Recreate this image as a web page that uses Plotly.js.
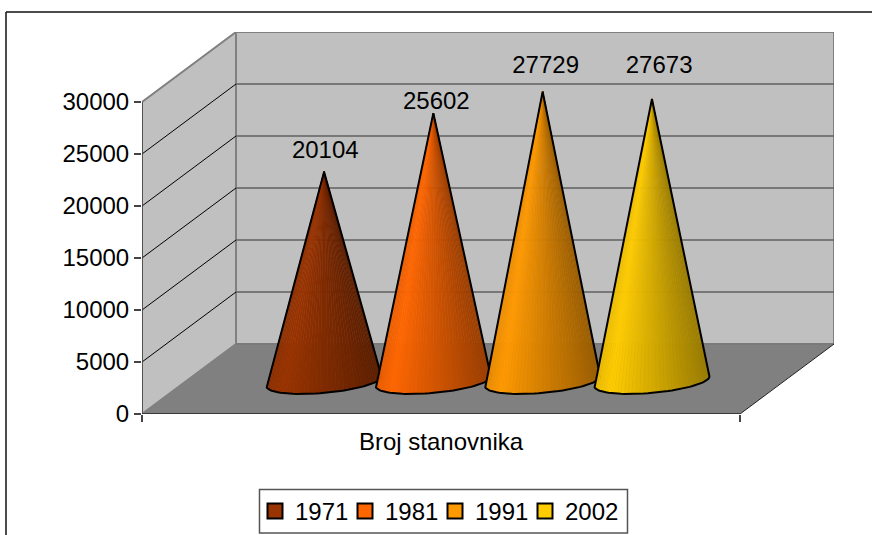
<!DOCTYPE html>
<html>
<head>
<meta charset="utf-8">
<script src="https://cdn.plot.ly/plotly-3.0.1.min.js"></script>
<style>html,body{margin:0;padding:0;background:#fff;overflow:hidden}#c{width:872px;height:535px}</style>
</head>
<body>
<div id="c"></div>
<script>
// ---- data ----
var categoryLabel = 'Broj stanovnika';
var years = ['1971', '1981', '1991', '2002'];
var values = [20104, 25602, 27729, 27673];
var drawnHeights = [20150, 25800, 27870, 27160];   // apex level as drawn in the picture
var labelLevels = [25150, 29950, 33320, 33320];    // level of each data label
var labelOffsets = [0.002, 0.005, 0.005, 0.012];   // sideways nudge of each data label
var colors = ['#993300', '#FF6600', '#FF9900', '#FFCC00'];
var tickValues = [0, 5000, 10000, 15000, 20000, 25000, 30000];
var legendLefts = [255, 345, 435, 525];

// ---- oblique projection, in axis units ----
var yMax = 30000, FRONT_W = 598, H = 312;
var depthX = 94 / FRONT_W, depthY = 70 / H * yMax;
var xRange = [0, 692 / 598], yRange = [0, 382 / 312 * 30000];
var slot = 109.3 / FRONT_W, coneA = 57.5 / FRONT_W;
var baseLevel = 3130, coneB = 11.5 / H * yMax, coneTilt = 5 / H * yMax;
var FS = 24, FONT = 'Liberation Sans, Arial, sans-serif';

function rgb(hex, s) {
  var n = parseInt(hex.slice(1), 16);
  return 'rgb(' + [(n >> 16) & 255, (n >> 8) & 255, n & 255].map(function (c) { return Math.round(c * s); }).join(',') + ')';
}
function shade(u) { return u < 0.14 ? 0.92 + u * 0.57 : 1 - (u - 0.14) * 0.46; }
function poly(pts) {
  return pts.map(function (p, i) { return (i ? 'L' : 'M') + p[0] + ',' + p[1]; }).join('') + 'Z';
}
function line(a, b, color, w) {
  return { type: 'line', layer: 'below', x0: a[0], y0: a[1], x1: b[0], y1: b[1], line: { color: color, width: w } };
}

var wall = '#C0C0C0', wallEdge = '#808080', floorC = '#808080';
var shapes = [
  { type: 'path', layer: 'below', path: poly([[0, 0], [depthX, depthY], [depthX, yMax + depthY], [0, yMax]]), fillcolor: wall, line: { color: wallEdge, width: 2 } },
  { type: 'path', layer: 'below', path: poly([[depthX, depthY], [1 + depthX, depthY], [1 + depthX, yMax + depthY], [depthX, yMax + depthY]]), fillcolor: wall, line: { color: wallEdge, width: 2 } }
];
tickValues.slice(1, -1).forEach(function (v) {
  shapes.push(line([0, v], [depthX, v + depthY], '#000', 1));
  shapes.push(line([depthX, v + depthY], [1 + depthX, v + depthY], '#606060', 1.5));
});
shapes.push({ type: 'path', layer: 'below', path: poly([[0, 0], [1, 0], [1 + depthX, depthY], [depthX, depthY]]), fillcolor: floorC, line: { width: 0 } });
shapes.push(line([depthX, depthY], [1 + depthX, depthY], '#7a7a7a', 2));
shapes.push(line([1, 0], [1 + depthX, depthY], '#222', 1));
shapes.push(line([0, 0], [1, 0], '#222', 1.5));
shapes.push(line([0, 0], [0, yMax], '#444', 1.5));
// outer chart frame and legend box (paper coordinates)
function px(x) { return (x - 142) / 692; }
function py(y) { return (414 - y) / 382; }
[[6, 12, 872, 12], [6, 12, 6, 535]].forEach(function (f) {
  shapes.push({ type: 'line', xref: 'paper', yref: 'paper', x0: px(f[0]), y0: py(f[1]), x1: px(f[2]), y1: py(f[3]), line: { color: '#111', width: 1.5 } });
});
shapes.push({ type: 'rect', xref: 'paper', yref: 'paper', x0: px(259.5), y0: py(489.5), x1: px(627.5), y1: py(533), line: { color: '#555', width: 1.5 }, fillcolor: '#fff' });

var traces = [], N = 44;
years.forEach(function (yr, i) {
  var cx = 0.5 + depthX / 2 + (i - 1.5) * slot;
  var apex = [cx, baseLevel + drawnHeights[i]];
  var pt = function (k) {
    var t = Math.PI * (1 - k / N); // from left end round the front to right end
    return [cx + coneA * Math.cos(t), baseLevel - coneB * Math.sin(t) + coneTilt * Math.cos(t)];
  };
  var rim = [];
  for (var k = 0; k <= N; k++) rim.push(pt(k));
  for (k = 0; k < N; k++) {
    var u = (rim[k][0] + rim[k + 1][0]) / 2;
    u = (u - (cx - coneA)) / (2 * coneA);
    var col = rgb(colors[i], shade(u));
    traces.push({
      type: 'scatter', mode: 'lines', x: [apex[0], rim[k][0], rim[k + 1][0], apex[0]], y: [apex[1], rim[k][1], rim[k + 1][1], apex[1]],
      fill: 'toself', fillcolor: col, line: { width: 0.5, color: col }, hoverinfo: 'skip', showlegend: false
    });
  }
  var ox = [apex[0]].concat(rim.map(function (p) { return p[0]; }), [apex[0]]);
  var oy = [apex[1]].concat(rim.map(function (p) { return p[1]; }), [apex[1]]);
  traces.push({ type: 'scatter', mode: 'lines', x: ox, y: oy, line: { color: '#000', width: 2 }, hoverinfo: 'skip', showlegend: false });
  traces.push({
    type: 'scatter', mode: 'text', x: [cx + labelOffsets[i]], y: [labelLevels[i]], text: [String(values[i])],
    textposition: 'middle center', textfont: { family: FONT, size: FS, color: '#000' }, hoverinfo: 'skip', showlegend: false, cliponaxis: false
  });
});
years.forEach(function (yr, i) {
  traces.push({
    type: 'scatter', mode: 'markers', name: yr, x: [null], y: [null], showlegend: true,
    legend: i ? 'legend' + (i + 1) : 'legend',
    marker: { symbol: 'square', size: 15, color: colors[i], line: { color: '#000', width: 2 } }
  });
});

var layout = {
  width: 872, height: 535, autosize: false, showlegend: true,
  paper_bgcolor: '#fff', plot_bgcolor: '#fff',
  margin: { l: 142, r: 38, t: 32, b: 121, pad: 0, autoexpand: false },
  font: { family: FONT, size: FS, color: '#000' },
  xaxis: {
    range: xRange, showgrid: false, zeroline: false, showline: false,
    tickmode: 'array', tickvals: [0, 1], ticktext: ['', ''], ticks: 'outside', ticklen: 7, tickcolor: '#444', tickwidth: 1.5, fixedrange: true
  },
  yaxis: {
    range: yRange, showgrid: false, zeroline: false, showline: false,
    tickmode: 'array', tickvals: tickValues, ticktext: tickValues.map(String), ticks: 'outside', ticklen: 7, tickcolor: '#444', tickwidth: 1.5,
    tickfont: { family: FONT, size: FS, color: '#000' }, fixedrange: true
  },
  shapes: shapes,
  annotations: [{ text: categoryLabel, xref: 'x', yref: 'paper', x: 0.5, y: 0, yanchor: 'top', yshift: -12, showarrow: false, font: { family: FONT, size: FS, color: '#000' } }]
};
legendLefts.forEach(function (left, i) {
  layout[i ? 'legend' + (i + 1) : 'legend'] = {
    orientation: 'h', xref: 'paper', yref: 'paper', x: px(left), y: py(489), xanchor: 'left', yanchor: 'top',
    bgcolor: 'rgba(0,0,0,0)', borderwidth: 0, font: { family: FONT, size: FS, color: '#000' }, itemwidth: 30
  };
});
Plotly.newPlot('c', traces, layout, { staticPlot: true, displayModeBar: false });
</script>
</body>
</html>
